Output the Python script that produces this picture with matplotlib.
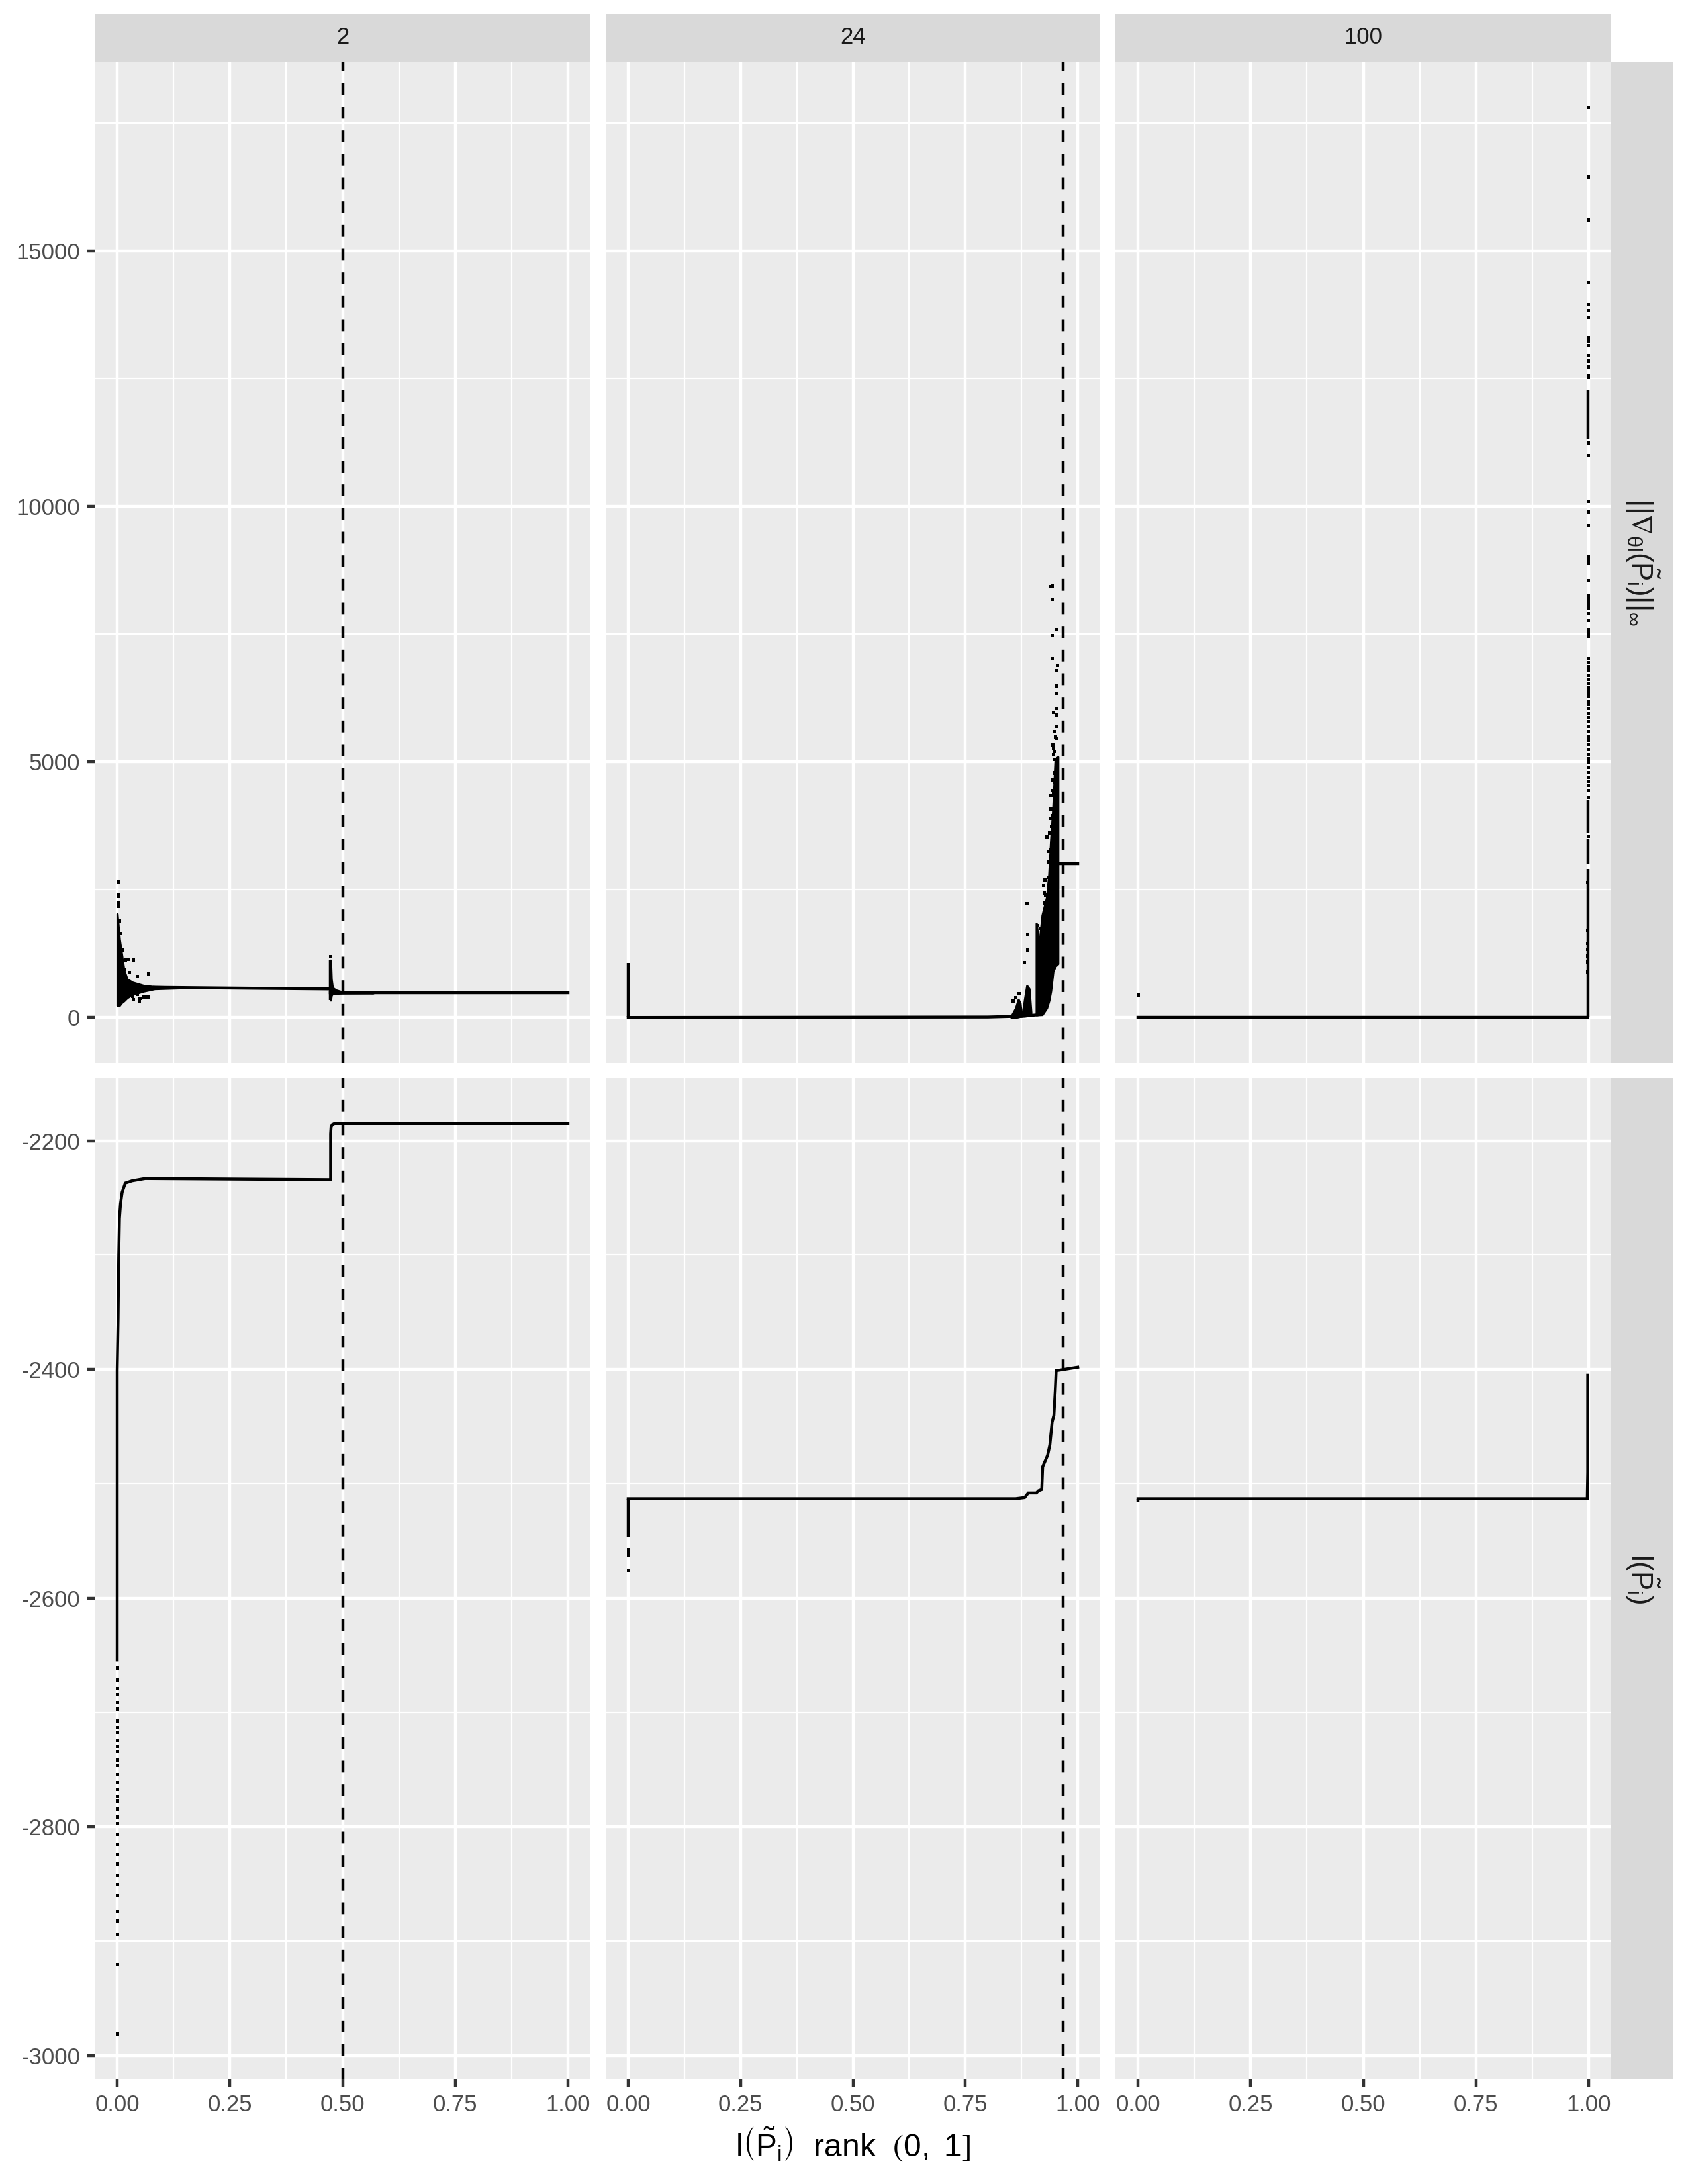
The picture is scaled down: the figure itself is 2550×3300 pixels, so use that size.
import matplotlib
matplotlib.use("Agg")
import matplotlib.pyplot as plt
from matplotlib.ticker import FixedLocator

plt.rcParams["font.family"] = ["Liberation Sans", "DejaVu Sans"]
plt.rcParams["mathtext.fontset"] = "custom"
plt.rcParams["mathtext.rm"] = "Liberation Sans"
plt.rcParams["mathtext.it"] = "Liberation Sans"
plt.rcParams["mathtext.sf"] = "Liberation Sans"
plt.rcParams["mathtext.fallback"] = "stixsans"

# facets
facet_P = ["2", "24", "100"]
cutoff_x = [0.5, 0.968, None]
row_labels = [r"$||\nabla_{\theta l}(\tilde{P}_i)||_{\infty}$", r"$l(\tilde{P}_i)$"]
x_ticks = [0.0, 0.25, 0.5, 0.75, 1.0]
x_tick_labels = ["0.00", "0.25", "0.50", "0.75", "1.00"]
x_minor = [0.125, 0.375, 0.625, 0.875]
grad_ticks = [0, 5000, 10000, 15000]
grad_minor = [2500, 7500, 12500, 17500]
ll_ticks = [-3000, -2800, -2600, -2400, -2200]
ll_minor = [-2900, -2700, -2500, -2300]

# ---- P = 2, gradient norm ----
p2_grad_blob_x = [0.000, 0.005, 0.010, 0.015, 0.022, 0.034, 0.059, 0.083, 0.147]
p2_grad_blob_hi = [2030, 1530, 1230, 925, 750, 686, 622, 600, 590]
p2_grad_blob_lo = [233, 233, 290, 324, 385, 449, 514, 560, 578]
p2_grad_line_x = [0.083, 0.300, 0.4735]
p2_grad_line_y = [588, 570, 557]
p2_grad_tail_x = [0.4735, 0.4750, 0.4775, 0.485, 0.500, 0.568]
p2_grad_tail_hi = [1118, 751, 583, 535, 495, 483]
p2_grad_tail_lo = [337, 430, 462, 470, 474, 476]
p2_grad_after_x = [0.4735, 1.000]
p2_grad_after_y = [479, 479]
p2_grad_spike = [0.4735, 337, 1118]
p2_grad_pts_x = [0.001, 0.001, 0.001, 0.002, 0.0123, 0.0172, 0.024, 0.0358, 0.0167, 0.027,
                 0.0446, 0.0696, 0.0338, 0.0358, 0.049, 0.058, 0.0676, 0.0437, 0.050, 0.4735,
                 0.003, 0.004, 0.006]
p2_grad_pts_y = [2655, 2410, 2380, 2180, 1330, 1131, 1149, 1136, 950, 890,
                 803, 864, 415, 350, 333, 405, 405, 457, 385, 1192,
                 2250, 1900, 1650]

# ---- P = 2, log-likelihood ----
p2_ll_x = [0.000, 0.000, 0.002, 0.0034, 0.005, 0.0074, 0.011, 0.018, 0.033, 0.062,
           0.4735, 0.4735, 0.4745, 0.477, 0.482, 1.000]
p2_ll_y = [-2654, -2401, -2355, -2302, -2268, -2255, -2245, -2237, -2235, -2233,
           -2234, -2194, -2188, -2186, -2185, -2185]
p2_ll_pts_y = [-2661, -2671, -2679, -2684, -2691, -2697, -2707, -2713, -2717, -2724,
               -2729, -2734, -2741, -2746, -2754, -2761, -2767, -2773, -2777, -2784,
               -2791, -2797, -2806, -2815, -2824, -2832, -2842, -2850, -2860, -2874,
               -2882, -2894, -2920, -2981]

# ---- P = 24, gradient norm ----
p24_grad_line_x = [0.000, 0.800, 0.852, 0.877, 0.896, 0.909]
p24_grad_line_y = [0, 8, 20, 25, 40, 50]
p24_grad_spike = [0.000, 0, 1070]
p24_blobA_x = [0.852, 0.862, 0.868, 0.872, 0.875]
p24_blobA_hi = [20, 180, 350, 280, 40]
p24_blobA_lo = [0, 0, 10, 20, 20]
p24_blobB_x = [0.877, 0.882, 0.887, 0.892, 0.896]
p24_blobB_hi = [60, 350, 620, 560, 100]
p24_blobB_lo = [25, 25, 30, 35, 40]
p24_blobC_x = [0.908, 0.914, 0.921, 0.931, 0.936, 0.940, 0.945, 0.950, 0.956]
p24_blobC_hi = [1840, 1400, 2000, 2350, 2800, 3450, 4100, 5050, 5100]
p24_blobC_lo = [50, 52, 55, 185, 330, 516, 900, 1000, 1050]
p24_plateau_x = [0.955, 1.000]
p24_plateau_y = [3005, 3005]
p24_plateau_spike = [0.955, 2700, 3250]
p24_grad_pts_x = [0.938, 0.942, 0.942, 0.942, 0.942, 0.951, 0.951, 0.945, 0.951, 0.952,
                  0.951, 0.945, 0.949, 0.931, 0.940, 0.939, 0.887, 0.888, 0.888, 0.881,
                  0.910, 0.910, 0.910, 0.910, 0.923, 0.925, 0.931, 0.936, 0.944, 0.948,
                  0.862, 0.869, 0.856,
                  0.916, 0.918, 0.926, 0.928, 0.933, 0.935, 0.938, 0.941, 0.943, 0.946,
                  0.947, 0.949, 0.950, 0.952, 0.953, 0.954, 0.948, 0.946, 0.944, 0.953,
                  0.927, 0.934, 0.939, 0.942, 0.947]
p24_grad_pts_y = [8439, 8453, 8188, 7474, 7024, 6786, 6495, 5979, 5926, 5701,
                  5476, 5278, 5212, 3545, 4352, 4087, 2235, 1620, 1323, 1078,
                  1806, 1574, 1376, 1210, 2599, 2434, 2103, 3624, 5344, 4782,
                  397, 463, 331,
                  1550, 1750, 2250, 2400, 2750, 3050, 3300, 3750, 3950, 4400,
                  4600, 4800, 5500, 6050, 6350, 6900, 5600, 5150, 4650, 7600,
                  2700, 3250, 3900, 4450, 5050]

# ---- P = 24, log-likelihood ----
p24_ll_x = [0.000, 0.862, 0.882, 0.890, 0.908, 0.913, 0.920, 0.922, 0.933, 0.938,
            0.943, 0.947, 0.950, 0.952, 1.000]
p24_ll_y = [-2513, -2513, -2512, -2508, -2508, -2506, -2505, -2485, -2475, -2466,
            -2446, -2440, -2419, -2401, -2398]
p24_ll_spike = [0.000, -2547, -2513]
p24_ll_pts_x = [0.000, 0.000, 0.000, 0.000]
p24_ll_pts_y = [-2557, -2560, -2562, -2576]

# ---- P = 100, gradient norm ----
p100_grad_line_x = [0.000, 0.997]
p100_grad_line_y = [0, 0]
p100_grad_start = [0.000, 440]
p100_col_x = 0.998
p100_col_lo = [0, 3000, 3600, 11310]
p100_col_hi = [2900, 3500, 4250, 12290]
p100_pts_y = [17820, 16460, 15610, 14400, 13960, 13840, 13710, 13310, 13240, 13150,
              12960, 12860, 12740, 12575, 12525, 11250, 11000, 10110, 9900, 9625,
              9025, 8960, 8900, 8550, 8275, 8210, 8150, 8090, 8025, 7900,
              7775, 7590, 7525, 7460, 7025, 6950, 6875, 6800, 6700, 6625,
              6550, 6450, 6375, 6300, 6200, 6125, 6050, 5950, 5875, 5800,
              5700, 5600, 5500, 5425, 5350, 5250, 5150, 5075, 5000, 4900,
              4800, 4700, 4625, 4550, 4450, 4300, 3550]
p100_left_x = 0.9965
p100_left_y = [2650, 1710, 1460, 1340, 1210, 1090, 900]

# ---- P = 100, log-likelihood ----
p100_ll_x = [0.000, 0.997, 0.998, 0.998]
p100_ll_y = [-2513, -2513, -2490, -2405]
p100_ll_start = [0.000, -2516, -2513]

W, H = 2550, 3300
col_px = [(143, 892), (915, 1662), (1685, 2434)]
row_px = [(93, 1606), (1629, 3142)]
strip_top = (21, 93)
strip_right = (2434, 2527)

PANEL_BG = "#EBEBEB"
STRIP_BG = "#D9D9D9"
LW = 1.07
MS = 1.2


def rect(x0, x1, y0, y1):
    return [x0 / W, 1 - y1 / H, (x1 - x0) / W, (y1 - y0) / H]


def pts(ax, x, y):
    ax.plot(x, y, linestyle="none", marker="s", ms=MS, mew=0, color="black")


def line(ax, x, y):
    ax.plot(x, y, color="black", lw=LW, solid_joinstyle="miter")


def blob(ax, x, lo, hi):
    ax.fill_between(x, lo, hi, color="black", lw=0.8)


fig = plt.figure(figsize=(W / 300, H / 300), dpi=300)

axes = [[None] * 3 for _ in range(2)]
for r, (y0, y1) in enumerate(row_px):
    for c, (x0, x1) in enumerate(col_px):
        ax = fig.add_axes(rect(x0, x1, y0, y1))
        ax.set_facecolor(PANEL_BG)
        for s in ax.spines.values():
            s.set_visible(False)
        ax.set_axisbelow(True)
        ax.set_xlim(-0.05, 1.05)
        ax.xaxis.set_major_locator(FixedLocator(x_ticks))
        ax.xaxis.set_minor_locator(FixedLocator(x_minor))
        if r == 0:
            ax.yaxis.set_major_locator(FixedLocator(grad_ticks))
            ax.yaxis.set_minor_locator(FixedLocator(grad_minor))
        else:
            ax.yaxis.set_major_locator(FixedLocator(ll_ticks))
            ax.yaxis.set_minor_locator(FixedLocator(ll_minor))
        ax.grid(which="major", color="white", lw=LW)
        ax.grid(which="minor", color="white", lw=LW / 2)
        ax.tick_params(which="minor", length=0)
        ax.tick_params(which="major", length=2.75, width=LW, color="#333333",
                       labelsize=8.3, labelcolor="#4D4D4D", pad=2.5)
        if c == 0:
            ax.set_yticklabels([str(v) for v in (grad_ticks if r == 0 else ll_ticks)])
        else:
            ax.tick_params(axis="y", length=0, labelleft=False)
        if r == 1:
            ax.set_xticklabels(x_tick_labels)
        else:
            ax.tick_params(axis="x", length=0, labelbottom=False)
        axes[r][c] = ax

# P = 2
ax = axes[0][0]
blob(ax, p2_grad_blob_x, p2_grad_blob_lo, p2_grad_blob_hi)
line(ax, p2_grad_line_x, p2_grad_line_y)
ax.vlines(p2_grad_spike[0], p2_grad_spike[1], p2_grad_spike[2], color="black", lw=LW)
blob(ax, p2_grad_tail_x, p2_grad_tail_lo, p2_grad_tail_hi)
line(ax, p2_grad_after_x, p2_grad_after_y)
pts(ax, p2_grad_pts_x, p2_grad_pts_y)

ax = axes[1][0]
line(ax, p2_ll_x, p2_ll_y)
pts(ax, [0.0] * len(p2_ll_pts_y), p2_ll_pts_y)

# P = 24
ax = axes[0][1]
line(ax, p24_grad_line_x, p24_grad_line_y)
ax.vlines(p24_grad_spike[0], p24_grad_spike[1], p24_grad_spike[2], color="black", lw=LW)
blob(ax, p24_blobA_x, p24_blobA_lo, p24_blobA_hi)
blob(ax, p24_blobB_x, p24_blobB_lo, p24_blobB_hi)
blob(ax, p24_blobC_x, p24_blobC_lo, p24_blobC_hi)
line(ax, p24_plateau_x, p24_plateau_y)
ax.vlines(p24_plateau_spike[0], p24_plateau_spike[1], p24_plateau_spike[2], color="black", lw=LW)
pts(ax, p24_grad_pts_x, p24_grad_pts_y)

ax = axes[1][1]
line(ax, p24_ll_x, p24_ll_y)
ax.vlines(p24_ll_spike[0], p24_ll_spike[1], p24_ll_spike[2], color="black", lw=LW)
pts(ax, p24_ll_pts_x, p24_ll_pts_y)

# P = 100
ax = axes[0][2]
line(ax, p100_grad_line_x, p100_grad_line_y)
pts(ax, [p100_grad_start[0]], [p100_grad_start[1]])
ax.vlines([p100_col_x] * len(p100_col_lo), p100_col_lo, p100_col_hi, color="black", lw=LW)
pts(ax, [p100_col_x] * len(p100_pts_y), p100_pts_y)
pts(ax, [p100_left_x] * len(p100_left_y), p100_left_y)

ax = axes[1][2]
line(ax, p100_ll_x, p100_ll_y)
ax.vlines(p100_ll_start[0], p100_ll_start[1], p100_ll_start[2], color="black", lw=LW)

# shared y ranges per row with 5% expansion (ggplot style)
for r in range(2):
    lo = min(min(l.get_ydata()) for a in axes[r] for l in a.get_lines() if len(l.get_ydata()))
    hi = max(max(l.get_ydata()) for a in axes[r] for l in a.get_lines() if len(l.get_ydata()))
    pad = 0.05 * (hi - lo)
    for a in axes[r]:
        a.set_ylim(lo - pad, hi + pad)

# cutoff lines
for c, cx in enumerate(cutoff_x):
    if cx is None:
        continue
    for r in range(2):
        axes[r][c].axvline(cx, color="black", lw=LW, linestyle=(0, (4, 4)))

# strips
for c, (x0, x1) in enumerate(col_px):
    sa = fig.add_axes(rect(x0, x1, strip_top[0], strip_top[1]))
    sa.set_facecolor(STRIP_BG)
    sa.set_xticks([])
    sa.set_yticks([])
    for s in sa.spines.values():
        s.set_visible(False)
    sa.text(0.5, 0.5, facet_P[c], ha="center", va="center", fontsize=8.3,
            color="#1A1A1A", transform=sa.transAxes)

for r, (y0, y1) in enumerate(row_px):
    sa = fig.add_axes(rect(strip_right[0], strip_right[1], y0, y1))
    sa.set_facecolor(STRIP_BG)
    sa.set_xticks([])
    sa.set_yticks([])
    for s in sa.spines.values():
        s.set_visible(False)
    sa.text(0.5, 0.5, row_labels[r], ha="center", va="center", fontsize=10.5,
            rotation=-90, color="#1A1A1A", transform=sa.transAxes)

fig.text((col_px[0][0] + col_px[2][1]) / 2 / W, 1 - 3240 / H,
         r"$l\left(\tilde{P}_i\right)\ \ \mathrm{rank}\ \ \left(0,\ 1\right]$",
         ha="center", va="center", fontsize=11.5, color="black")

fig.savefig("out.png", dpi=300, facecolor="white")
